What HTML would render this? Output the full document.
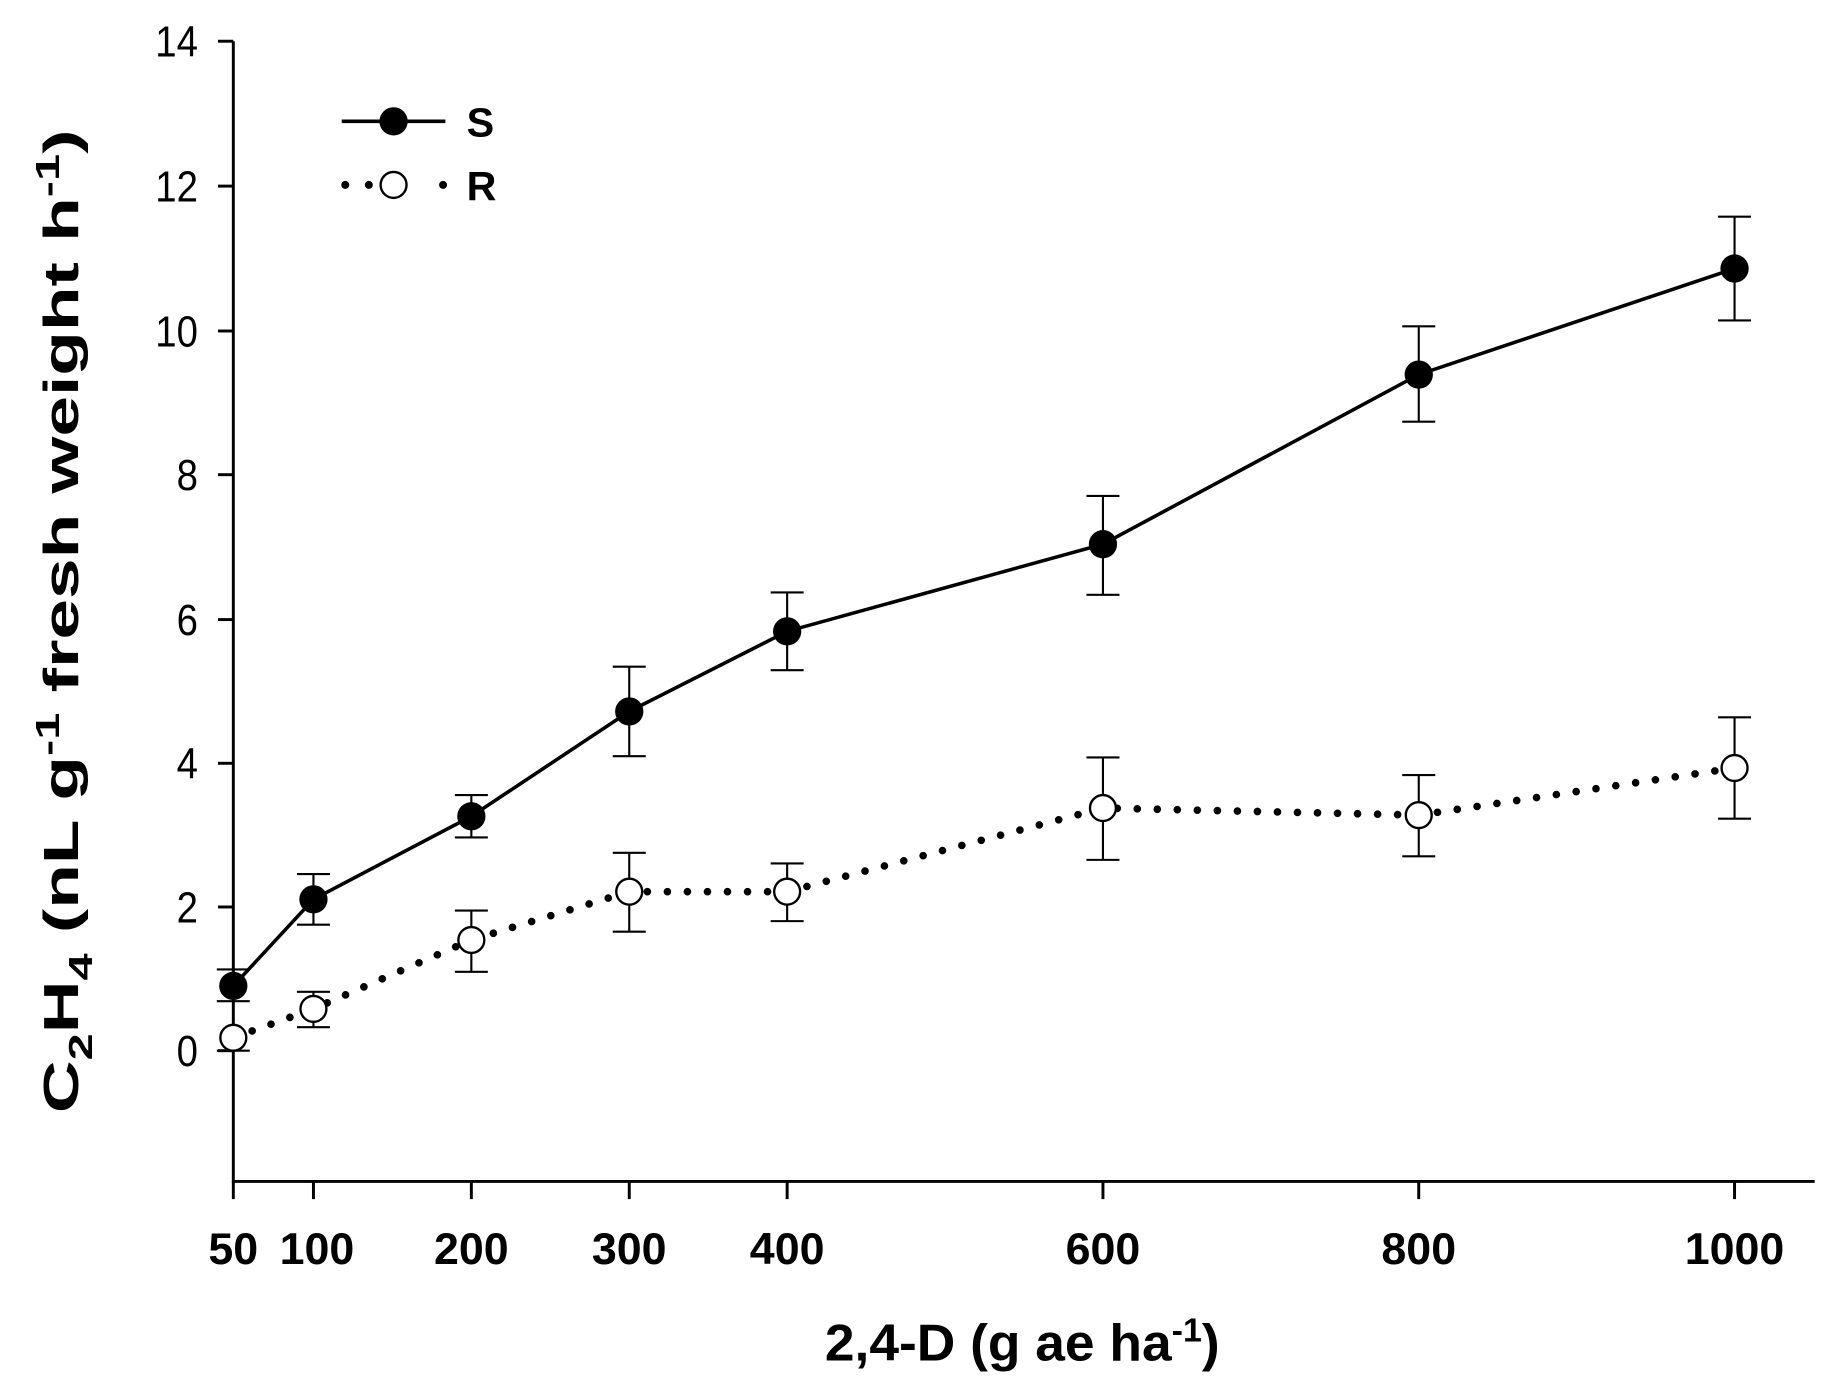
<!DOCTYPE html>
<html><head><style>html,body{margin:0;padding:0;background:#fff}svg{display:block}</style></head>
<body>
<svg width="1830" height="1397" viewBox="0 0 1553 1186" preserveAspectRatio="none" xmlns="http://www.w3.org/2000/svg" font-family="'Liberation Sans', Arial, sans-serif">
<g stroke="#000" stroke-width="2.5" fill="none">
<line x1="198" y1="35" x2="198" y2="1004"/>
<line x1="197" y1="1003" x2="1540" y2="1003"/>
<line x1="185" y1="35" x2="198" y2="35"/>
<line x1="185" y1="158" x2="198" y2="158"/>
<line x1="185" y1="281" x2="198" y2="281"/>
<line x1="185" y1="403" x2="198" y2="403"/>
<line x1="185" y1="526" x2="198" y2="526"/>
<line x1="185" y1="648" x2="198" y2="648"/>
<line x1="185" y1="770" x2="198" y2="770"/>
<line x1="185" y1="892" x2="198" y2="892"/>
<line x1="198" y1="1003" x2="198" y2="1018"/>
<line x1="266" y1="1003" x2="266" y2="1018"/>
<line x1="400" y1="1003" x2="400" y2="1018"/>
<line x1="534" y1="1003" x2="534" y2="1018"/>
<line x1="668" y1="1003" x2="668" y2="1018"/>
<line x1="936" y1="1003" x2="936" y2="1018"/>
<line x1="1204" y1="1003" x2="1204" y2="1018"/>
<line x1="1472" y1="1003" x2="1472" y2="1018"/>
</g>
<g font-size="37" text-anchor="end" fill="#000" transform="translate(168,0) scale(0.88,1) translate(-168,0)">
<text x="168" y="48">14</text><text x="168" y="171">12</text><text x="168" y="294">10</text>
<text x="168" y="416">8</text><text x="168" y="539">6</text><text x="168" y="661">4</text>
<text x="168" y="783">2</text><text x="168" y="905">0</text>
</g>
<g font-size="38" font-weight="bold" text-anchor="middle" fill="#000">
<text x="198" y="1073">50</text><text x="269" y="1073">100</text><text x="400" y="1073">200</text>
<text x="534" y="1073">300</text><text x="668" y="1073">400</text><text x="936" y="1073">600</text>
<text x="1204" y="1073">800</text><text x="1472" y="1073">1000</text>
</g>
<text x="700" y="1155" font-size="44" font-weight="bold" textLength="335" lengthAdjust="spacingAndGlyphs">2,4-D (g ae ha<tspan dy="-16" font-size="28">-1</tspan><tspan dy="16">)</tspan></text>
<text transform="translate(66,945) rotate(-90)" font-size="42" font-weight="bold" textLength="835" lengthAdjust="spacingAndGlyphs">C<tspan dy="12" font-size="28">2</tspan><tspan dy="-12">H</tspan><tspan dy="12" font-size="28">4</tspan><tspan dy="-12"> (nL g</tspan><tspan dy="-16" font-size="28">-1</tspan><tspan dy="16"> fresh weight h</tspan><tspan dy="-16" font-size="28">-1</tspan><tspan dy="16">)</tspan></text>
<g stroke="#000" stroke-width="1.8">
<path d="M198 823V850M184 823H212M184 850H212"/>
<path d="M266 742V785M252 742H280M252 785H280"/>
<path d="M400 675V711M386 675H414M386 711H414"/>
<path d="M534 566V642M520 566H548M520 642H548"/>
<path d="M668 503V569M654 503H682M654 569H682"/>
<path d="M936 421V505M922 421H950M922 505H950"/>
<path d="M1204 277V358M1190 277H1218M1190 358H1218"/>
<path d="M1472 184V272M1458 184H1486M1458 272H1486"/>
<path d="M198 870V892M184 892H212"/>
<path d="M266 842V872M252 842H280M252 872H280"/>
<path d="M400 773V825M386 773H414M386 825H414"/>
<path d="M534 724V791M520 724H548M520 791H548"/>
<path d="M668 733V782M654 733H682M654 782H682"/>
<path d="M936 643V730M922 643H950M922 730H950"/>
<path d="M1204 658V727M1190 658H1218M1190 727H1218"/>
<path d="M1472 609V695M1458 609H1486M1458 695H1486"/>
</g>
<polyline points="198,837 266,763.5 400,693 534,604 668,536 936,462 1204,318 1472,228" fill="none" stroke="#000" stroke-width="3"/>
<polyline points="198,881 266,856.5 400,798 534,757 668,757 936,686 1204,692 1472,652" fill="none" stroke="#000" stroke-width="6.5" stroke-linecap="round" stroke-dasharray="0 17"/>
<g fill="#000">
<circle cx="198" cy="837" r="12"/><circle cx="266" cy="763.5" r="12"/><circle cx="400" cy="693" r="12"/>
<circle cx="534" cy="604" r="12"/><circle cx="668" cy="536" r="12"/><circle cx="936" cy="462" r="12"/>
<circle cx="1204" cy="318" r="12"/><circle cx="1472" cy="228" r="12"/>
</g>
<g fill="#fff" stroke="#000" stroke-width="2">
<circle cx="198" cy="881" r="11"/><circle cx="266" cy="856.5" r="11"/><circle cx="400" cy="798" r="11"/>
<circle cx="534" cy="757" r="11"/><circle cx="668" cy="757" r="11"/><circle cx="936" cy="686" r="11"/>
<circle cx="1204" cy="692" r="11"/><circle cx="1472" cy="652" r="11"/>
</g>
<line x1="290" y1="103" x2="378" y2="103" stroke="#000" stroke-width="3"/>
<circle cx="334" cy="103" r="12" fill="#000"/>
<text x="396" y="116" font-size="35" font-weight="bold">S</text>
<g fill="#000"><circle cx="293" cy="157" r="3.4"/><circle cx="313" cy="157" r="3.4"/><circle cx="376" cy="157" r="3.4"/></g>
<circle cx="334" cy="157" r="11" fill="#fff" stroke="#000" stroke-width="2"/>
<text x="396" y="170" font-size="35" font-weight="bold">R</text>
</svg>
</body></html>
